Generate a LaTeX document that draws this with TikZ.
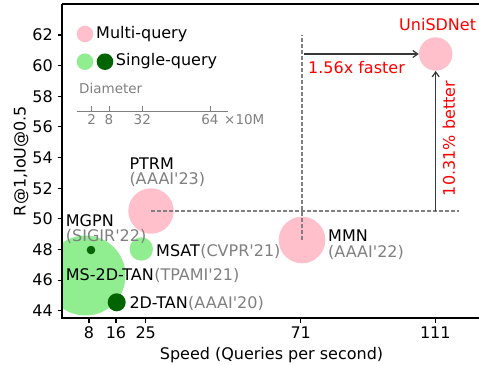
\documentclass[tikz,border=0pt]{standalone}
\usepackage{fontspec}
\setmainfont{DejaVu Sans}
\usetikzlibrary{arrows.meta}
\definecolor{pinkc}{HTML}{FFC0CB}
\definecolor{lgreen}{HTML}{90EE90}
\definecolor{dgreen}{HTML}{006400}
\definecolor{txtgray}{HTML}{808080}
\definecolor{arrgray}{HTML}{383838}
\newcommand{\q}{\textquotesingle}
\begin{document}
\begin{tikzpicture}[x=1pt,y=-1pt,
  every node/.style={font=\fontsize{16}{19}\selectfont, inner sep=0pt},
  bubble/.style={circle, inner sep=0pt, draw=none, minimum size=#1},
  lab/.style={anchor=base west},
  ven/.style={anchor=base west, text=txtgray},
  small/.style={font=\fontsize{13.5}{16}\selectfont, text=txtgray},
  spine/.style={draw=black, line width=1.2pt},
  tickmark/.style={draw=black, line width=1.1pt},
  dashline/.style={draw=txtgray, line width=1.2pt, dash pattern=on 4pt off 2pt},
  arr/.style={draw=arrgray, line width=1.2pt, -{Straight Barb[length=5pt,width=7pt]}},
  redlab/.style={text=red}
]
\useasboundingbox (0,0) rectangle (479,364);
\fill[white] (0,0) rectangle (479,364);

% bubbles
\begin{scope}
  \clip (62,4) rectangle (479,318);
  \node[bubble=80pt, fill=lgreen] (ms2d) at (85.5,275.5) {};
\end{scope}
\node[bubble=8.6pt, fill=dgreen] (mgpn) at (91,250) {};
\node[bubble=18pt, fill=dgreen] (tan2d) at (116.7,302.3) {};
\node[bubble=23.4pt, fill=lgreen] (msat) at (141.3,249) {};
\node[bubble=45.4pt, fill=pinkc] (ptrm) at (151,211) {};
\node[bubble=46.6pt, fill=pinkc] (mmn) at (302,240) {};
\node[bubble=33.4pt, fill=pinkc] (uni) at (435.7,54) {};

% dashed guides
\coordinate (hd) at (459,211);
\coordinate (vd) at (302,35);
\draw[dashline] (ptrm.center) -- (hd);
\draw[dashline] (mmn.center) -- (vd);

% arrows
\coordinate (af) at (304,54);
\coordinate (ab) at (435.7,211);
\draw[arr] (af) -- (uni.west);
\draw[arr] (ab) -- (uni.south);

% spines
\draw[spine] (62,4) -- (479,4);
\draw[spine] (62,4) -- (62,318) -- (479,318);

% y ticks
\foreach \v/\y in {44/310.7,46/280.07,48/249.44,50/218.81,52/188.18,54/157.55,56/126.92,58/96.29,60/65.66,62/35.03}{
  \draw[tickmark] (57.5,\y) -- (62,\y);
  \node[anchor=east] (yt\v) at (53,\y) {\v};
}
% x ticks
\foreach \v/\x in {8/89,16/116,25/145.7,71/300.7,111/435.3}{
  \draw[tickmark] (\x,318) -- (\x,322.5);
  \node (xt\v) at (\x,332.7) {\v};
}
\node[anchor=base] (xlabel) at (271.5,359.6) {Speed (Queries per second)};
\node[rotate=90] (ylabel) at (21,161) {R@1,IoU@0.5};

% legend
\node[bubble=16.6pt, fill=pinkc] (lgm) at (85,34) {};
\node[lab] (lgmt) at (96,38) {Multi-query};
\node[bubble=16.6pt, fill=lgreen] (lgs1) at (85,61.7) {};
\node[bubble=16.6pt, fill=dgreen] (lgs2) at (105,61.7) {};
\node[lab] (lgst) at (115.7,65.7) {Single-query};
\node[small, anchor=base west] (diam) at (79,93.3) {Diameter};
\draw[draw=txtgray, line width=1pt] (76.7,111) -- (227.7,111);
\foreach \v/\x in {2/91.7,8/109,32/142.3,64/210}{
  \draw[draw=txtgray, line width=1pt] (\x,106) -- (\x,111);
  \node[small, anchor=base] (sc\v) at (\x,124.7) {\v};
}
\node[small, anchor=base west] (scunit) at (224,124.7) {×10M};

% labels
\node[lab] (ptrmt) at (129.3,169.7) {PTRM};
\node[ven] (ptrmv) at (129.3,184.3) {(AAAI\q23)};
\node[lab] (mgpnt) at (65.7,226.4) {MGPN};
\node[ven] (mgpnv) at (65.7,241) {(SIGIR\q22)};
\node[lab] (msatt) at (156,256.5) {MSAT};
\node[ven] (msatv) at (msatt.base east) {(CVPR\q21)};
\node[lab] (ms2dt) at (65.7,280) {MS-2D-TAN};
\node[ven] (ms2dv) at (ms2dt.base east) {(TPAMI\q21)};
\node[lab] (tan2dt) at (129.3,308) {2D-TAN};
\node[ven] (tan2dv) at (tan2dt.base east) {(AAAI\q20)};
\node[lab] (mmnt) at (328,241.4) {MMN};
\node[ven] (mmnv) at (328,257) {(AAAI\q22)};
\node[lab, redlab] (unit) at (399,30.7) {UniSDNet};
\node[lab, redlab] (fast) at (308,73) {1.56x faster};
\node[redlab, rotate=90] (better) at (449,138.5) {10.31\% better};
\end{tikzpicture}
\end{document}
